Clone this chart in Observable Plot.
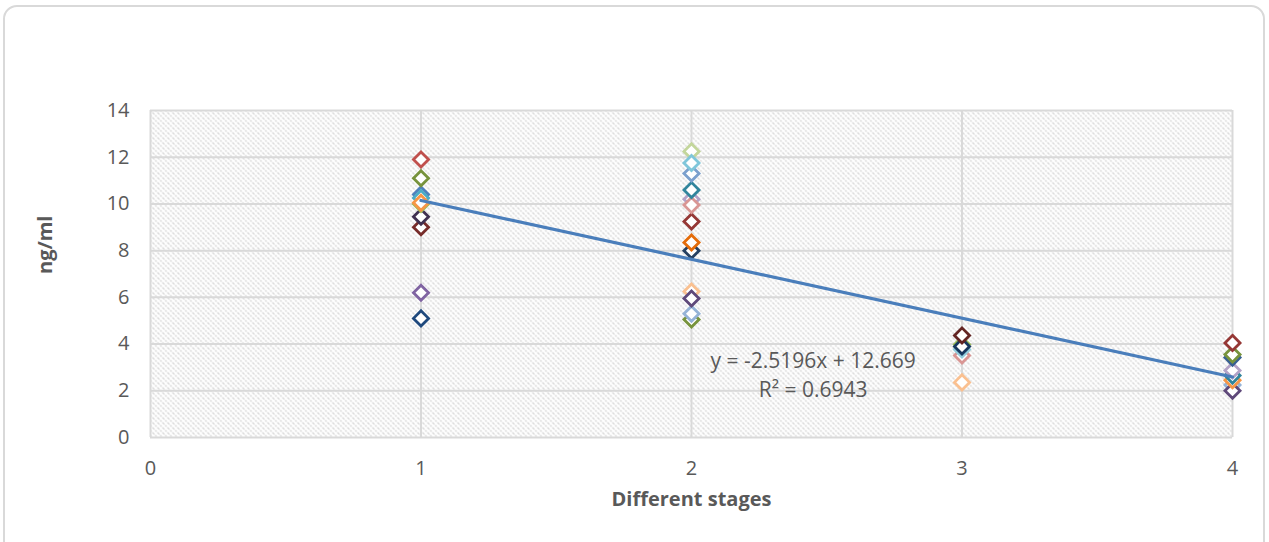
<!DOCTYPE html>
<html>
<head>
<meta charset="utf-8">
<script src="https://cdn.jsdelivr.net/npm/d3@7"></script>
<script src="https://cdn.jsdelivr.net/npm/@observablehq/plot@0.6"></script>
<style>
  html, body { margin: 0; padding: 0; background: #ffffff; }
  #wrap { position: relative; width: 1269px; height: 542px; overflow: hidden; }
  #border { position: absolute; left: 3px; top: 5px; width: 1262px; height: 550px;
            border: 2px solid #d9d9d9; border-radius: 14px; box-sizing: border-box; }
  #chart { position: absolute; left: 0; top: 0; }
</style>
</head>
<body>
<div id="wrap">
  <div id="border"></div>
  <div id="chart"></div>
</div>
<script>
// ---- data ----
const stageOf = [
  1, 1, 1, 1, 1, 1, 1, 1, 1, 1,
  2, 2, 2, 2, 2, 2, 2, 2, 2, 2, 2, 2, 2,
  3, 3, 3, 3, 3, 3,
  4, 4, 4, 4, 4, 4, 4, 4
];
const levelOf = [
  5.1, 6.2, 9.0, 9.45, 10.4, 10.25, 10.0, 10.05, 11.1, 11.9,
  5.05, 5.3, 6.25, 5.95, 8.0, 8.35, 9.25, 10.2, 9.95, 10.6, 11.3, 12.25, 11.75,
  2.36, 3.51, 3.77, 3.98, 3.9, 4.37,
  2.25, 2.0, 2.45, 2.65, 2.87, 3.42, 3.55, 4.05
];
const colorOf = [
  "#1f497d", "#8064a2", "#772c2a", "#403151", "#4f81bd", "#4bacc6", "#9bbb59", "#f79646", "#77933c", "#c0504d",
  "#77933c", "#95b3d7", "#fac090", "#5f497a", "#254061", "#e46c0a", "#953735", "#b3a2c7", "#d99694", "#31859c", "#7ba0cd", "#c3d69b", "#7fc6da",
  "#fac090", "#d99694", "#93cddd", "#9bbb59", "#17375e", "#632523",
  "#95b3d7", "#5f497a", "#f79646", "#31859c", "#b3a2c7", "#376092", "#77933c", "#953735"
];
// linear trendline (y = -2.5196x + 12.669) endpoints as drawn
const trendStage = [1, 4];
const trendLevel = [10.149, 2.591];
const equationLines = ["y = -2.5196x + 12.669", "R² = 0.6943"];
const equationStage = [2.45, 2.45];
const equationLevel = [3.25, 2.02];
const yTicks = [0, 2, 4, 6, 8, 10, 12, 14];
const xTicks = [0, 1, 2, 3, 4];
const xTitle = "Different stages";
const yTitle = "ng/ml";

const points = stageOf.map((s, i) => ({stage: s, level: levelOf[i], color: colorOf[i]}));
const trend = trendStage.map((s, i) => ({stage: s, level: trendLevel[i]}));
const equation = equationLines.map((t, i) => ({text: t, stage: equationStage[i], level: equationLevel[i]}));

const font = "'Open Sans', 'Liberation Sans', sans-serif";
const grey = "#595959";

const chart = Plot.plot({
  width: 1269,
  height: 542,
  marginLeft: 150,
  marginRight: 37,
  marginTop: 110,
  marginBottom: 105,
  style: {fontFamily: font, background: "transparent", overflow: "visible"},
  x: {domain: [0, 4], axis: null},
  y: {domain: [0, 14], axis: null},
  marks: [
    Plot.frame({fill: "url(#hatch)", stroke: null}),
    Plot.ruleY(yTicks, {stroke: "#d9d9d9", strokeWidth: 2}),
    Plot.ruleX(xTicks, {stroke: "#d9d9d9", strokeWidth: 2}),
    Plot.axisY(yTicks, {tickSize: 0, tickPadding: 21, fontSize: 20, fill: grey, label: null, tickFormat: "d"}),
    Plot.axisX(xTicks, {tickSize: 0, tickPadding: 23, fontSize: 20, fill: grey, label: null, tickFormat: "d"}),
    Plot.dot(points, {x: "stage", y: "level", symbol: "diamond2", r: 6.8, stroke: "color", fill: "white", strokeWidth: 2.8}),
    Plot.line(trend, {x: "stage", y: "level", stroke: "#4a7ebb", strokeWidth: 3.2}),
    Plot.text(equation, {x: "stage", y: "level", text: "text", fontSize: 21, fill: grey}),
    Plot.text([yTitle], {frameAnchor: "left", dx: -105, rotate: -90, fontSize: 20, fontWeight: "bold", fill: grey}),
    Plot.text([xTitle], {frameAnchor: "bottom", dy: 68, fontSize: 20, fontWeight: "bold", fill: grey})
  ]
});

// hatch pattern definition for the plot area
const ns = "http://www.w3.org/2000/svg";
const defs = document.createElementNS(ns, "defs");
defs.innerHTML = `<pattern id="hatch" patternUnits="userSpaceOnUse" width="5" height="5">
  <rect width="5" height="5" fill="#ffffff"/>
  <path d="M-1,-1 L6,6 M-1,4 L1,6 M4,-1 L6,1" stroke="#cccccc" stroke-width="1.1" stroke-dasharray="3 1"/>
</pattern>`;
chart.insertBefore(defs, chart.firstChild);
document.getElementById("chart").appendChild(chart);
</script>
</body>
</html>
